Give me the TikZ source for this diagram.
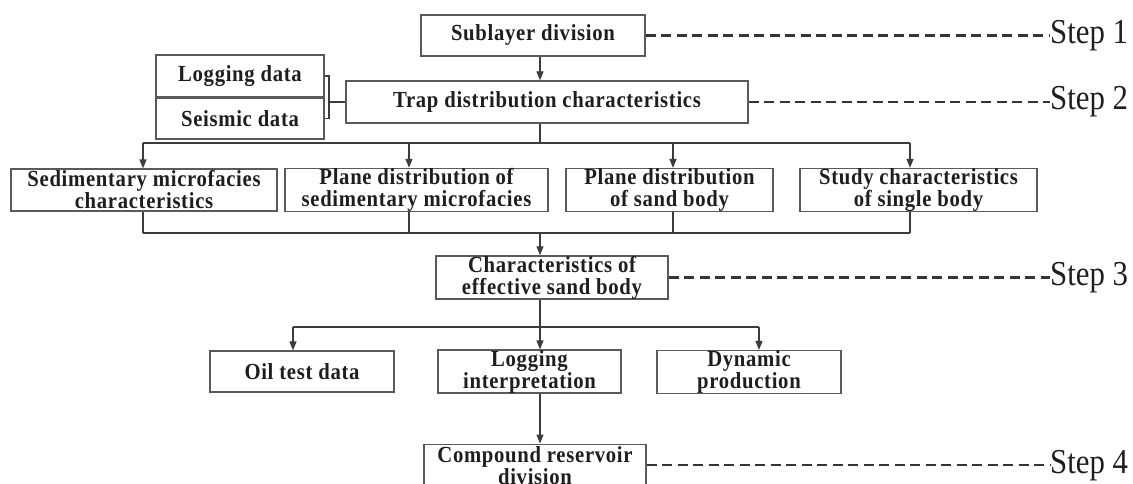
\documentclass[tikz,border=0pt]{standalone}
\usepackage{fontspec}
\setmainfont{Liberation Serif}
\newfontfamily\boxfont{Liberation Serif}[LetterSpace=3, FakeStretch=0.9]
\newfontfamily\stepfont{Liberation Serif}[FakeStretch=0.88]
\usetikzlibrary{arrows.meta,positioning}
\definecolor{boxgray}{RGB}{90,90,90}
\definecolor{linegray}{RGB}{60,60,60}
\definecolor{txtdark}{RGB}{30,30,30}

\begin{document}
\begin{tikzpicture}[
  x=1pt, y=-1pt,
  box/.style={draw=boxgray, line width=1.3pt, inner sep=0pt, align=center,
              text=txtdark, font=\boxfont\bfseries\fontsize{23}{22}\selectfont},
  link/.style={draw=linegray, line width=1.2pt},
  arr/.style={link, -{Triangle[length=9pt, width=7pt]}},
  steplink/.style={draw=txtdark!90, line width=2.2pt, dash pattern=on 10pt off 5.5pt},
  steptxt/.style={anchor=west, inner sep=0pt, text=txtdark,
                  font=\stepfont\fontsize{35}{36}\selectfont}
]
  \useasboundingbox (0,0) rectangle (1133,484);
  \clip (0,0) rectangle (1133,484);

  % Top
  \node[box, minimum width=224pt, minimum height=41pt] (sub) at (533,35.5) {Sublayer division};
  \node[box, minimum width=402pt, minimum height=42pt] (trap) at (547,102)
    {Trap distribution characteristics};

  % Data sources
  \node[box, minimum width=168pt, minimum height=42pt] (log) at (240,76) {Logging data};
  \node[box, minimum width=168pt, minimum height=41pt] (seis) at (240,118.5) {Seismic data};

  % Second row
  \node[box, minimum width=266pt, minimum height=42pt] (sed) at (144,190)
    {Sedimentary microfacies\\characteristics};
  \node[box, minimum width=263pt, minimum height=42pt] (plsed) at (416.5,190)
    {Plane distribution of\\sedimentary microfacies};
  \node[box, minimum width=207pt, minimum height=42pt] (plsand) at (669.5,190)
    {Plane distribution\\of sand body};
  \node[box, minimum width=237pt, minimum height=42pt] (study) at (918.5,190)
    {Study characteristics\\of single body};

  % Effective sand body
  \node[box, minimum width=232pt, minimum height=41pt] (char) at (552,277.5)
    {Characteristics of\\effective sand body};

  % Third row
  \node[box, minimum width=184pt, minimum height=41pt] (oil) at (302,371.5) {Oil test data};
  \node[box, minimum width=183pt, minimum height=41pt] (logint) at (529.5,371.5)
    {Logging\\interpretation};
  \node[box, minimum width=184pt, minimum height=41pt] (dyn) at (749,372)
    {Dynamic\\production};

  % Compound reservoir
  \node[box, minimum width=222pt, minimum height=42pt, anchor=north] (comp) at (535,443.5)
    {Compound reservoir\\division};

  % Steps
  \node[steptxt] (s1) at (1050,35.5) {Step 1};
  \node[steptxt] (s2) at (1050,102) {Step 2};
  \node[steptxt] (s3) at (1050,277.5) {Step 3};
  \node[steptxt] (s4) at (1050,466) {Step 4};
  \draw[steplink] (sub.east) -- (s1.west);
  \draw[steplink] (trap.east) -- (s2.west);
  \draw[steplink] (char.east) -- (s3.west);
  \draw[steplink] (comp.east) -- (comp.east -| s4.west);

  % Bracket
  \coordinate (brk) at (329,102);
  \draw[link] (log.east) -| (brk);
  \draw[link] (seis.east) -| (brk);
  \draw[link] (brk) -- (trap.west);

  % Arrows
  \coordinate (j1) at (540,143);
  \coordinate (j2) at (540,233);
  \coordinate (j3) at (540,327);
  \draw[arr] (540,0 |- sub.south) -- (540,0 |- trap.north);
  \draw[link] (540,0 |- trap.south) -- (j1);
  \draw[link] (143,0 |- j1) -- (910,0 |- j1);
  \foreach \n/\x in {sed/143, plsed/409, plsand/673, study/910}{
    \draw[arr] (\x,0 |- j1) -- (\x,0 |- \n.north);
    \draw[link] (\x,0 |- \n.south) -- (\x,0 |- j2);
  }
  \draw[link] (143,0 |- j2) -- (910,0 |- j2);
  \draw[arr] (j2) -- (540,0 |- char.north);
  \draw[link] (540,0 |- char.south) -- (j3);
  \draw[link] (293,0 |- j3) -- (759,0 |- j3);
  \foreach \n/\x in {oil/293, logint/540, dyn/759}
    \draw[arr] (\x,0 |- j3) -- (\x,0 |- \n.north);
  \draw[arr] (540,0 |- logint.south) -- (540,0 |- comp.north);

\end{tikzpicture}
\end{document}
